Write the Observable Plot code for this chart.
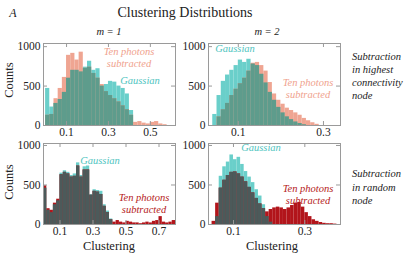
<!DOCTYPE html>
<html><head><meta charset="utf-8">
<script src="https://cdn.jsdelivr.net/npm/d3@7"></script>
<script src="https://cdn.jsdelivr.net/npm/@observablehq/plot@0.6"></script>
<style>
body{margin:0;background:#fff;}
#chart{position:relative;width:407px;height:253px;font-family:"Liberation Serif","Times New Roman",serif;color:#222;overflow:hidden;background:#fff;}
.t{position:absolute;white-space:nowrap;line-height:1;}
.c{transform:translate(-50%,-50%);}
.i{font-style:italic;}
.panel{position:absolute;}
.panel svg text{font-family:"Liberation Serif","Times New Roman",serif;}
.blk{position:absolute;transform:translate(-50%,-50%);text-align:center;font-style:italic;white-space:nowrap;}
.side{position:absolute;font-style:italic;font-size:10.5px;white-space:nowrap;}
</style></head><body>
<div id="chart">
  <div class="t c i" style="left:13px;top:13px;font-size:12px;">A</div>
  <div class="t c" style="left:185px;top:13px;font-size:14px;">Clustering Distributions</div>
  <div class="t c i" style="left:109px;top:32px;font-size:10.5px;">m = 1</div>
  <div class="t c i" style="left:267px;top:32px;font-size:10.5px;">m = 2</div>
  <div class="side" style="left:352px;top:50px;line-height:13px;">Subtraction<br>in highest<br>connectivity<br>node</div>
  <div class="side" style="left:352px;top:167px;line-height:13.5px;">Subtraction<br>in random<br>node</div>
  <div class="t c" style="left:9px;top:80px;font-size:12.5px;transform:translate(-50%,-50%) rotate(-90deg);">Counts</div>
  <div class="t c" style="left:9px;top:182px;font-size:12.5px;transform:translate(-50%,-50%) rotate(-90deg);">Counts</div>
  <div class="t c" style="left:109px;top:246px;font-size:12.5px;">Clustering</div>
  <div class="t c" style="left:272px;top:246px;font-size:12.5px;">Clustering</div>
</div>
<script>
// ---- data (counts per bin) ----
// Top-left: m = 1, subtraction in highest connectivity node (bins of 0.02 from 0)
const tlStart = 0, tlWidth = 0.02;
const tlGaussian = [470,234,280,330,420,600,700,700,680,740,815,700,720,500,520,560,550,500,470,400,190];
const tlTen      = [130,140,340,470,610,890,915,830,930,725,740,660,600,520,430,380,340,300,250,200,130,40,50,30,20,40,50,20,10];
// Top-right: m = 2, highest connectivity node (bins of 0.01 from 0.04)
const trStart = 0.04, trWidth = 0.01;
const trGaussian = [140,380,560,640,700,760,830,800,840,780,760,650,540,420,320,230,160,110,75,45,25,10];
const trTen      = [0,110,200,280,380,460,530,600,690,790,800,760,690,545,400,320,270,220,190,160,130,90,60,35,15];
// Bottom-left: m = 1, random node (bins of 0.02 from 0)
const blStart = 0, blWidth = 0.02;
const blGaussian = [460,180,150,250,300,650,680,660,620,640,780,620,730,740,380,440,430,420,250,170,70];
const blTen      = [490,200,180,270,320,630,660,640,600,610,740,600,690,690,370,420,410,380,230,150,60,30,50,30,20,40,30,20,20,10,20,30,20,40,50,100,30,20,30,50];
// Bottom-right: m = 2, random node (bins of 0.01 from 0.04)
const brStart = 0.04, brWidth = 0.01;
const brGaussian = [0,100,610,730,790,880,820,850,760,670,600,530,440,360,250,100,30];
const brTen      = [40,270,460,560,620,660,665,640,600,540,470,400,330,260,200,160,190,210,220,210,190,210,240,270,280,220,150,100,60,40,25,15,10,10,5];

// tick labels
const tlXTicks = [0.1, 0.3, 0.5];
const trXTicks = [0.1, 0.3];
const blXTicks = [0.1, 0.3, 0.5, 0.7];
const brXTicks = [0.1, 0.3];
const yTicks = [0, 500, 1000];

function rows(start, width, g, t) {
  const n = Math.max(g.length, t.length);
  return d3.range(n).map(i => {
    const gv = g[i] || 0, tv = t[i] || 0;
    return {x1: start + i * width, x2: start + (i + 1) * width, g: gv, t: tv, m: Math.min(gv, tv)};
  });
}

const TEAL = "#6acfca";
const frameStroke = "#9a9a9a";

function panel({data, xDomain, yDomain, xTicks, ten, overlap, left, top, fh}) {
  const W = 176, mt = 4, mb = 20, H = mt + fh + mb;
  const chart = Plot.plot({
    width: W, height: H,
    marginLeft: 42, marginRight: 2, marginTop: mt, marginBottom: mb,
    x: {domain: xDomain, label: null},
    y: {domain: yDomain, label: null},
    style: {background: "transparent", fontFamily: "'Liberation Serif', 'Times New Roman', serif", fontSize: "11.5px", color: "#222", overflow: "visible"},
    marks: [
      Plot.rectY(data, {x1: "x1", x2: "x2", y: "g", fill: TEAL}),
      Plot.rectY(data, {x1: "x1", x2: "x2", y: "t", fill: ten}),
      Plot.rectY(data, {x1: "x1", x2: "x2", y: "m", fill: overlap}),
      Plot.frame({stroke: frameStroke}),
      Plot.tickX(xTicks, {x: d => d, insetTop: fh - 4, stroke: frameStroke}),
      Plot.tickX(xTicks, {x: d => d, insetBottom: fh - 4, stroke: frameStroke}),
      Plot.tickY(yTicks, {y: d => d, insetRight: 132 - 4, stroke: frameStroke}),
      Plot.tickY(yTicks, {y: d => d, insetLeft: 132 - 4, stroke: frameStroke}),
      Plot.axisX({ticks: xTicks, tickSize: 0, tickPadding: 2, tickFormat: d3.format(".1f")}),
      Plot.axisY({ticks: yTicks, tickSize: 0, tickPadding: 3, tickFormat: d => String(d)})
    ]
  });
  const wrap = document.createElement("div");
  wrap.className = "panel";
  wrap.style.left = left + "px";
  wrap.style.top = top + "px";
  wrap.appendChild(chart);
  document.getElementById("chart").appendChild(wrap);
}

panel({data: rows(tlStart, tlWidth, tlGaussian, tlTen), xDomain: [-0.01, 0.62], yDomain: [0, 1040], xTicks: tlXTicks, ten: "#efa592", overlap: "#5e9c8c", left: 1, top: 39, fh: 82});
panel({data: rows(trStart, trWidth, trGaussian, trTen), xDomain: [0.03, 0.34], yDomain: [0, 1040], xTicks: trXTicks, ten: "#efa592", overlap: "#5e9c8c", left: 166, top: 39, fh: 82});
panel({data: rows(blStart, blWidth, blGaussian, blTen), xDomain: [0, 0.8], yDomain: [0, 1025], xTicks: blXTicks, ten: "#b2151b", overlap: "#4c5a5a", left: 1, top: 139, fh: 81});
panel({data: rows(brStart, brWidth, brGaussian, brTen), xDomain: [0.03, 0.4], yDomain: [0, 1025], xTicks: brXTicks, ten: "#b2151b", overlap: "#4c5a5a", left: 166, top: 139, fh: 81});

// in-panel annotations
const notes = [
  {html: "Ten photons<br>subtracted", x: 129, y: 57, color: "#f0a28e"},
  {html: "Gaussian", x: 140, y: 81, color: "#4fc4c0"},
  {html: "Gaussian", x: 235, y: 49, color: "#4fc4c0"},
  {html: "Ten photons<br>subtracted", x: 308, y: 88, color: "#f0a28e"},
  {html: "Gaussian", x: 100, y: 161, color: "#4fc4c0"},
  {html: "Ten photons<br>subtracted", x: 144, y: 203, color: "#b51a1a"},
  {html: "Gaussian", x: 261, y: 148, color: "#4fc4c0"},
  {html: "Ten photons<br>subtracted", x: 308, y: 194, color: "#b51a1a"}
];
for (const n of notes) {
  const d = document.createElement("div");
  d.className = "blk";
  d.style.left = n.x + "px";
  d.style.top = n.y + "px";
  d.style.color = n.color;
  d.style.fontSize = "10.5px";
  d.style.lineHeight = "11.5px";
  d.innerHTML = n.html;
  document.getElementById("chart").appendChild(d);
}
</script>
</body></html>
